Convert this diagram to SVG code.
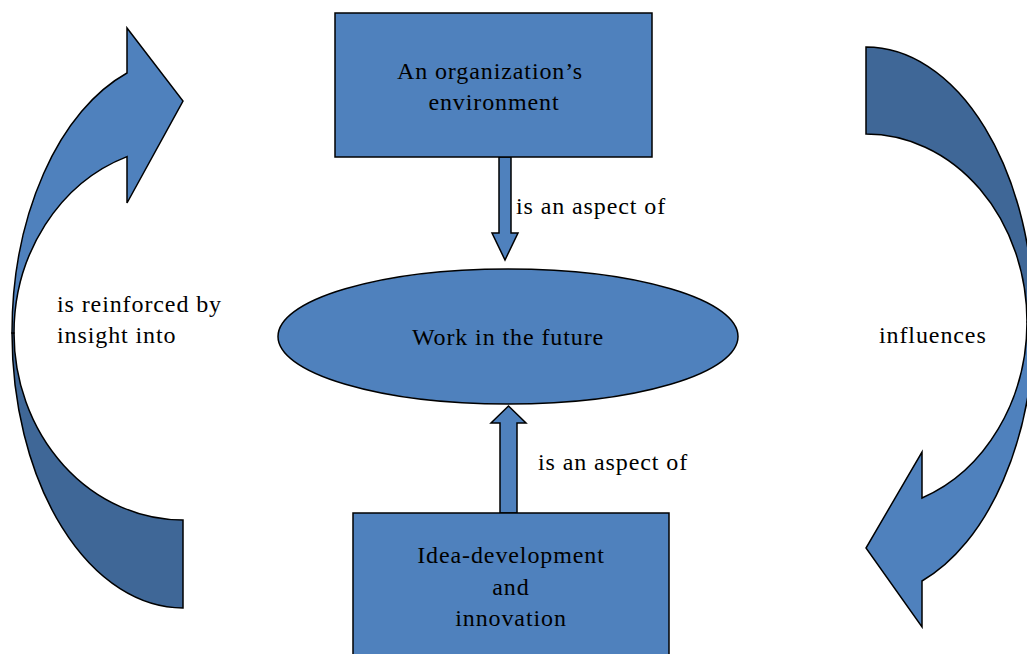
<svg xmlns="http://www.w3.org/2000/svg" width="1027" height="654" viewBox="0 0 1027 654">
<style>
.light{fill:#4F81BD;stroke:#000;stroke-width:1.5;stroke-linejoin:miter}
.dark{fill:#3F6797;stroke:#000;stroke-width:1.5}
.t{font-family:"Liberation Serif","Times New Roman",serif;font-size:24px;fill:#000;letter-spacing:0.9px}
.c{text-anchor:middle}
</style>
<rect width="1027" height="654" fill="#fff"/>
<g id="connectors">
  <g id="left-curved-arrow">
    <path class="dark" d="M12,333 A171,275 0 0 0 183,608 L183,520 A169,187 0 0 1 14,333 Z"/>
    <path class="light" d="M127,28 L127,73 A171,275 0 0 0 12,333 L14,333 A169,187 0 0 1 127,156.6 L127,203 L183,101 Z"/>
    <text class="t" x="57" y="312">is reinforced by</text>
    <text class="t" x="57" y="343">insight into</text>
  </g>
  <g id="right-curved-arrow">
    <path class="dark" d="M866,47 A168,275 0 0 1 1034,322 L1027,322 A161,188 0 0 0 866,134 Z"/>
    <path class="light" d="M1034,322 A168,275 0 0 1 922,581 L922,627 L866,548 L922,452 L922,498 A161,188 0 0 0 1027,322 Z"/>
    <text class="t" x="879" y="343">influences</text>
  </g>
  <g id="down-arrow">
    <polygon class="light" points="499,157 511,157 511,233 518,233 505,260 492,233 499,233"/>
    <text class="t" x="516" y="214">is an aspect of</text>
  </g>
  <g id="up-arrow">
    <polygon class="light" points="500,513 517,513 517,423 526,423 508.5,406 491,423 500,423"/>
    <text class="t" x="538" y="470">is an aspect of</text>
  </g>
</g>
<g id="node-environment">
  <rect class="light" x="335" y="13" width="317" height="144"/>
  <text class="t c" x="490" y="79">An organization’s</text>
  <text class="t c" x="494" y="110">environment</text>
</g>
<g id="node-work">
  <ellipse class="light" cx="508" cy="336.5" rx="230" ry="67.5"/>
  <text class="t c" x="508" y="345">Work in the future</text>
</g>
<g id="node-idea">
  <rect class="light" x="353" y="513" width="316" height="150"/>
  <text class="t c" x="511" y="563">Idea-development</text>
  <text class="t c" x="511" y="595">and</text>
  <text class="t c" x="511" y="626">innovation</text>
</g>
</svg>
